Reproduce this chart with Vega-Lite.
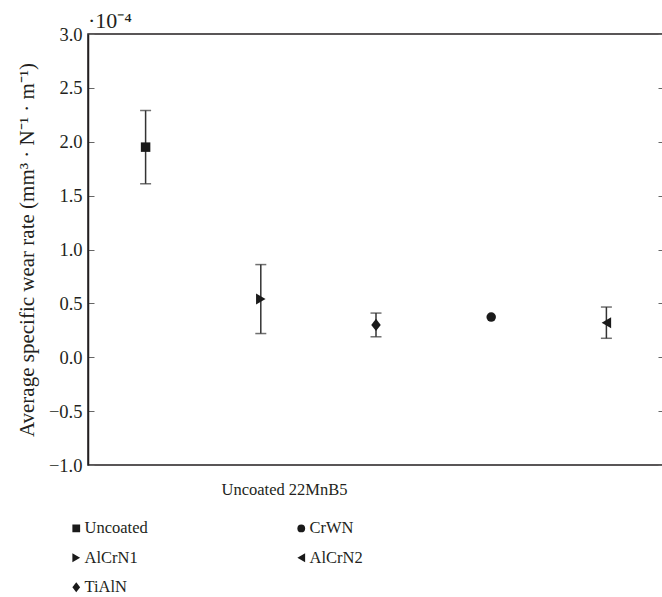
{
  "$schema": "https://vega.github.io/schema/vega-lite/v6.json",
  "autosize": {"type": "none"},
  "padding": {"left": 88, "top": 34, "right": 0, "bottom": 132},
  "width": 576,
  "height": 431,
  "background": "white",
  "title": {"text": "·10⁻⁴", "anchor": "start", "frame": "group", "baseline": "bottom", "offset": 3, "font": "Liberation Serif", "fontSize": 22, "fontWeight": "normal", "color": "#231f20", "dy": 33},
  "config": {
    "font": "Liberation Serif",
    "view": {"stroke": "#231f20", "strokeWidth": 1.5},
    "axis": {"labelFont": "Liberation Serif", "titleFont": "Liberation Serif", "labelColor": "#231f20", "titleColor": "#231f20", "grid": false}
  },
  "data": {"values": [
    {"coating": "Uncoated", "pos": 1, "mean": 1.95, "lo": 1.61, "hi": 2.29},
    {"coating": "AlCrN1", "pos": 2, "mean": 0.54, "lo": 0.22, "hi": 0.86},
    {"coating": "TiAlN", "pos": 3, "mean": 0.30, "lo": 0.19, "hi": 0.41},
    {"coating": "CrWN", "pos": 4, "mean": 0.373, "lo": null, "hi": null},
    {"coating": "AlCrN2", "pos": 5, "mean": 0.32, "lo": 0.176, "hi": 0.466}
  ]},
  "resolve": {"axis": {"y": "independent"}},
  "layer": [
    {
      "transform": [{"filter": "isValid(datum.lo)"}],
      "mark": {"type": "rule", "color": "#333333", "strokeWidth": 1.5},
      "encoding": {
        "x": {"field": "pos", "type": "quantitative", "scale": {"domain": [0.5, 5.5]},
          "axis": {"labels": false, "ticks": false, "domain": false, "title": "Uncoated 22MnB5", "titleFontSize": 16.5, "titleFontWeight": "normal", "titleX": 196, "titleY": 29, "titleBaseline": "alphabetic", "titleAnchor": "middle"}},
        "y": {"field": "lo", "type": "quantitative", "scale": {"domain": [-1, 3], "nice": false},
          "axis": {"orient": "right", "labels": false, "domain": false, "title": null, "tickSize": -6, "tickColor": "#666666", "tickWidth": 1, "values": [-1, -0.5, 0, 0.5, 1, 1.5, 2, 2.5, 3]}},
        "y2": {"field": "hi"}
      }
    },
    {
      "transform": [{"filter": "isValid(datum.lo)"}],
      "mark": {"type": "tick", "color": "#333333", "orient": "horizontal", "size": 11, "thickness": 1.5},
      "encoding": {
        "x": {"field": "pos", "type": "quantitative"},
        "y": {"field": "hi", "type": "quantitative", "axis": null}
      }
    },
    {
      "transform": [{"filter": "isValid(datum.lo)"}],
      "mark": {"type": "tick", "color": "#333333", "orient": "horizontal", "size": 11, "thickness": 1.5},
      "encoding": {
        "x": {"field": "pos", "type": "quantitative"},
        "y": {"field": "lo", "type": "quantitative", "axis": null}
      }
    },
    {
      "mark": {"type": "point", "filled": true, "opacity": 1},
      "encoding": {
        "x": {"field": "pos", "type": "quantitative"},
        "y": {"field": "mean", "type": "quantitative",
          "axis": {"orient": "left", "title": "Average specific wear rate (mm³ · N⁻¹ · m⁻¹)", "titleFontSize": 21, "titleFontWeight": "normal", "titlePadding": 11, "labelFontSize": 18.5, "format": ".1f", "values": [-1, -0.5, 0, 0.5, 1, 1.5, 2, 2.5, 3], "tickSize": -6, "tickColor": "#666666", "tickWidth": 1, "labelPadding": 12, "domainColor": "#231f20", "domainWidth": 1.5}},
        "shape": {"field": "coating", "type": "nominal",
          "scale": {"domain": ["Uncoated", "AlCrN1", "TiAlN", "CrWN", "AlCrN2"],
                    "range": ["square", "M-1,-1.15L1,0L-1,1.15Z", "M0,-1.3L1,0L0,1.3L-1,0Z", "circle", "M1,-1.15L-1,0L1,1.15Z"]},
          "legend": {"title": null, "orient": "none", "legendX": -20, "legendY": 486, "columns": 2, "columnPadding": 145, "rowPadding": 12.5, "labelFontSize": 16.5, "labelFont": "Liberation Serif", "labelColor": "#231f20", "symbolSize": 60, "symbolFillColor": "#1a1a1a", "symbolStrokeColor": "#1a1a1a", "labelOffset": 0}},
        "color": {"value": "#1a1a1a"},
        "size": {"value": 90}
      }
    }
  ]
}
